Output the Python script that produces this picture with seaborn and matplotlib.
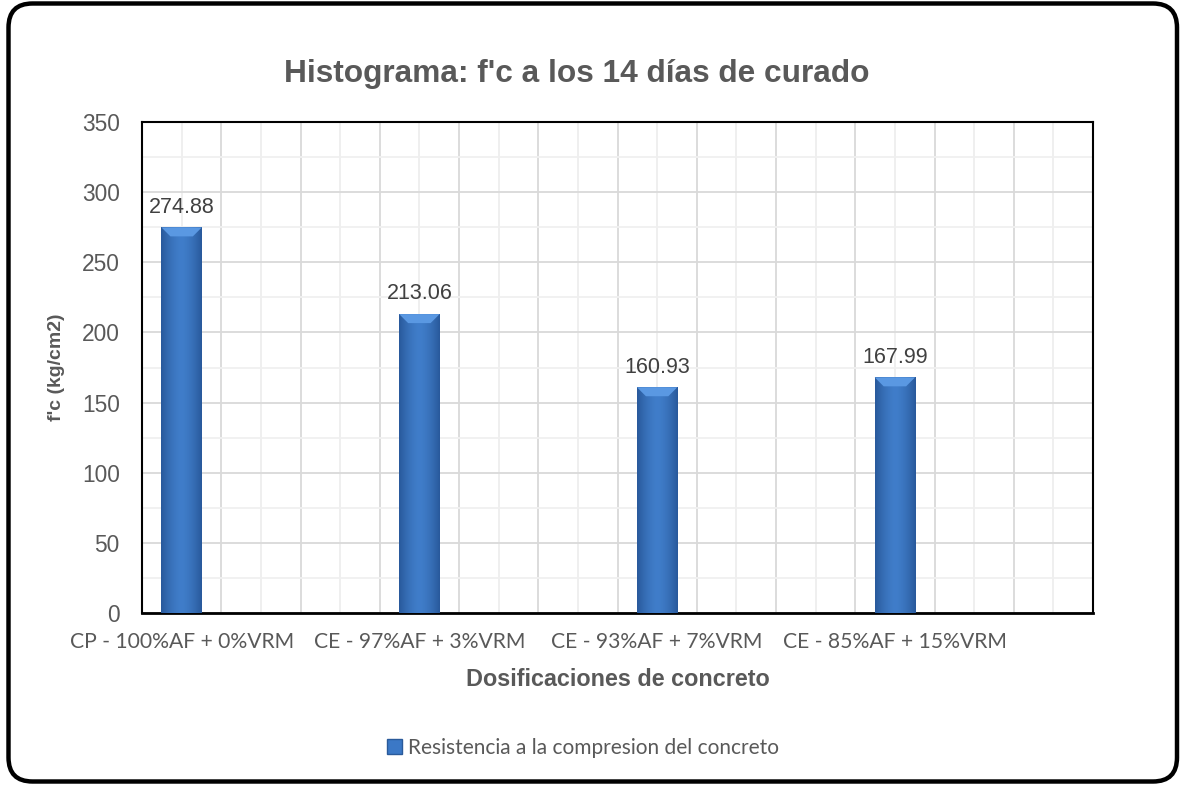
import numpy as np
import pandas as pd
import matplotlib
matplotlib.use("Agg")
import matplotlib.pyplot as plt
import seaborn as sns
from matplotlib.patches import FancyBboxPatch, Patch, Polygon
from matplotlib.ticker import MultipleLocator

# data
dosificaciones = ["CP - 100%AF + 0%VRM", "CE - 97%AF + 3%VRM",
                  "CE - 93%AF + 7%VRM", "CE - 85%AF + 15%VRM"]
fc_14_dias = [274.88, 213.06, 160.93, 167.99]
y_ticks = [0, 50, 100, 150, 200, 250, 300, 350]

ARIAL = "Liberation Sans"
CALIBRI = "Lato"
GREY_TXT = "#595959"


def main():
    df = pd.DataFrame({"dosificacion": dosificaciones, "fc": fc_14_dias})

    sns.set_theme(style="white")
    plt.rcParams["font.family"] = [ARIAL, "DejaVu Sans"]

    W, H = 1180, 785
    fig = plt.figure(figsize=(W / 100, H / 100), dpi=100)
    ax = fig.add_axes([142 / W, 1 - 613 / H, (1093 - 142) / W, (613 - 122) / H])

    sns.barplot(data=df, x="dosificacion", y="fc", width=0.17,
                color="#3b78c6", edgecolor="none", ax=ax, zorder=3)

    ax.set_xlim(-1 / 6, len(dosificaciones) - 1 / 6)
    ax.set_ylim(0, 350)

    # bevel-like horizontal gradient inside each bar
    t = np.linspace(0, 1, 64)
    prof = 1 - np.abs(2 * t - 1) ** 1.6
    edge = np.array([0.16, 0.35, 0.61])
    mid = np.array([0.25, 0.49, 0.79])
    grad = (edge[None, :] + (mid - edge)[None, :] * prof[:, None])[None, :, :]

    # size of the top bevel, ~9 px, in data units
    px_x = 9 / ax.transData.get_matrix()[0, 0] / 1.0
    px_y = 9 / ax.transData.get_matrix()[1, 1] / 1.0
    for p in ax.patches:
        x0, y0, w, h = p.get_x(), p.get_y(), p.get_width(), p.get_height()
        im = ax.imshow(grad, extent=(x0, x0 + w, y0, y0 + h), aspect="auto",
                       zorder=3.5, interpolation="bilinear")
        im.set_clip_path(p)
        top = y0 + h
        ax.add_patch(Polygon([(x0, top), (x0 + w, top), (x0 + w - px_x, top - px_y),
                              (x0 + px_x, top - px_y)], closed=True,
                             facecolor="#5a98e2", edgecolor="none", zorder=3.7))

    ax.set_xlim(-1 / 6, len(dosificaciones) - 1 / 6)
    ax.set_ylim(0, 350)

    ax.bar_label(ax.containers[0], fmt="%.2f", padding=7, fontsize=15.5,
                 color="#404040", family=ARIAL)

    ax.set_yticks(y_ticks)
    ax.yaxis.set_minor_locator(MultipleLocator(25))
    ax.grid(axis="y", which="major", color="#d9d9d9", lw=1.3, zorder=0)
    ax.grid(axis="y", which="minor", color="#f0f0f0", lw=1.3, zorder=0)
    ax.set_axisbelow(True)

    # vertical gridlines, every sixth of a category slot
    for k in range(0, 6 * len(dosificaciones) - 1):
        ax.axvline(k / 6, color="#d9d9d9" if k % 2 else "#eeeeee",
                   lw=1.3, zorder=0)

    ax.tick_params(axis="both", which="both", length=0)
    ax.tick_params(axis="y", labelsize=16.4, labelcolor=GREY_TXT, pad=16)
    ax.tick_params(axis="x", labelsize=15.2, labelcolor=GREY_TXT, pad=14)
    for lab in ax.get_xticklabels():
        lab.set_family([CALIBRI, "DejaVu Sans"])

    for s in ax.spines.values():
        s.set_color("black")
        s.set_linewidth(1.5)
    ax.spines["bottom"].set_linewidth(2.0)

    ax.set_xlabel("Dosificaciones de concreto", fontsize=16.8,
                  fontweight="bold", color=GREY_TXT)
    ax.xaxis.set_label_coords(0.5, -0.112)
    ax.set_ylabel("f'c (kg/cm2)", fontsize=14, fontweight="bold",
                  color=GREY_TXT)
    ax.yaxis.set_label_coords(-0.081, 0.5)

    fig.text(577 / W, 1 - 74 / H, "Histograma: f'c a los 14 días de curado",
             ha="center", va="center", fontsize=22.8, fontweight="bold",
             color=GREY_TXT)

    handle = Patch(facecolor="#3b78c6", edgecolor="#2a5a9a",
                   label="Resistencia a la compresion del concreto")
    fig.legend(handles=[handle], loc="center", bbox_to_anchor=(583 / W, 1 - 748 / H),
               frameon=False, handlelength=0.75, handleheight=0.75,
               handletextpad=0.3, prop={"family": [CALIBRI, "DejaVu Sans"], "size": 15},
               labelcolor=GREY_TXT)

    # rounded outer frame
    frame = FancyBboxPatch((0.085, 0.035), 11.685, 7.78,
                           boxstyle="round,pad=0,rounding_size=0.24",
                           transform=fig.dpi_scale_trans, fill=False,
                           edgecolor="black", lw=3.2, zorder=10)
    fig.patches.append(frame)

    fig.savefig("out.png", dpi=100, facecolor="white")


if __name__ == "__main__":
    main()
